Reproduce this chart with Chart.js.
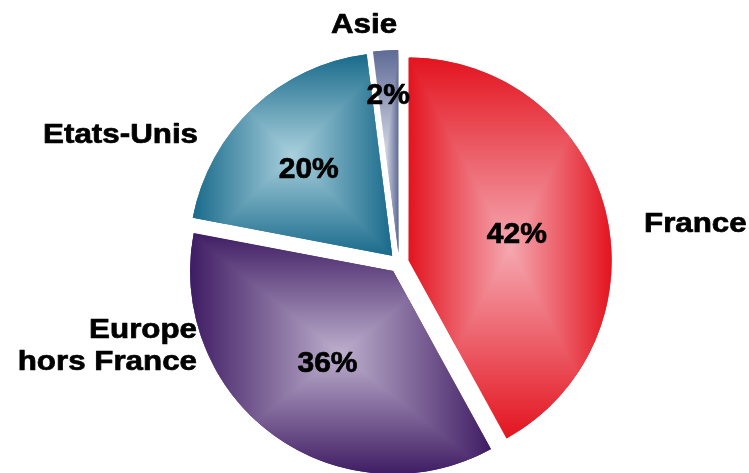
<!DOCTYPE html>
<html lang="fr">
<head>
<meta charset="utf-8">
<title>Répartition par zone</title>
<script src="https://cdn.jsdelivr.net/npm/chart.js@4.4.1/dist/chart.umd.min.js"></script>
<style>
  html, body { margin: 0; padding: 0; background: #ffffff; }
  #zone { position: relative; width: 749px; height: 473px; }
</style>
</head>
<body>
<div id="zone"><canvas id="camembert"></canvas></div>
<script>
// Données du graphique
const zones = ['France', 'Europe hors France', 'Etats-Unis', 'Asie'];
const parts = [42, 36, 20, 2];
const lignesEtiquettes = [['France'], ['Europe', 'hors France'], ['Etats-Unis'], ['Asie']];

// Couleurs : bord foncé et centre clair de chaque part
const couleursBord = ['#e3141f', '#3f1c63', '#196a8b', '#5f6b96'];
const couleursCentre = ['#f5a8b1', '#bdafcd', '#a9d0dd', '#d3d6e4'];

const RAYON = 203;
const DECALAGE = 40; // Chart.js déplace la part de offset / 4

// Placement des textes (pour coller à l'original)
const rayonPourcent = [0.55, 0.55, 0.6, 0.79];
const posEtiquettes = [
  { dx: 245, dy: -41, align: 'left' },
  { dx: -202, dy: 81, align: 'right' },
  { dx: -201, dy: -130, align: 'right' },
  { dx: -35, dy: -240, align: 'center' }
];

function sommet(arc) {
  const o = (arc.options.offset || 0) / 4;
  const h = (arc.startAngle + arc.endAngle) / 2;
  return { x: arc.x + Math.cos(h) * o, y: arc.y + Math.sin(h) * o, h: h };
}

// Chart.js agrandit les parts décalées : on compense pour garder le même rayon
const pluginRayon = {
  id: 'rayonEgal',
  afterDatasetUpdate(chart, args) {
    args.meta.data.forEach(arc => {
      const o = (arc.options.offset || 0) / 4;
      const fix = 1 - Math.sin(Math.min(Math.PI, arc.circumference || 0));
      arc.outerRadius = RAYON - o * fix;
    });
  }
};

// Dégradé "rectangle depuis le centre" sur chaque part
const pluginDegrade = {
  id: 'degrade',
  afterDatasetsDraw(chart) {
    const ctx = chart.ctx;
    chart.getDatasetMeta(0).data.forEach((arc, i) => {
      const p = sommet(arc);
      const s = arc.startAngle, e = arc.endAngle;
      const pts = [[p.x, p.y],
        [p.x + RAYON * Math.cos(s), p.y + RAYON * Math.sin(s)],
        [p.x + RAYON * Math.cos(e), p.y + RAYON * Math.sin(e)]];
      for (let k = -2; k <= 4; k++) {
        const a = k * Math.PI / 2;
        if (a > s && a < e) pts.push([p.x + RAYON * Math.cos(a), p.y + RAYON * Math.sin(a)]);
      }
      const xs = pts.map(q => q[0]), ys = pts.map(q => q[1]);
      const x0 = Math.min(...xs), x1 = Math.max(...xs);
      const y0 = Math.min(...ys), y1 = Math.max(...ys);
      const cx = (x0 + x1) / 2, cy = (y0 + y1) / 2;

      ctx.save();
      ctx.beginPath();
      ctx.moveTo(p.x, p.y);
      ctx.arc(p.x, p.y, RAYON, s, e);
      ctx.closePath();
      ctx.clip();

      const gv = ctx.createLinearGradient(0, y0, 0, y1);
      gv.addColorStop(0, couleursBord[i]);
      gv.addColorStop(0.5, couleursCentre[i]);
      gv.addColorStop(1, couleursBord[i]);
      ctx.fillStyle = gv;
      ctx.fillRect(x0 - 1, y0 - 1, x1 - x0 + 2, y1 - y0 + 2);

      const gh = ctx.createLinearGradient(x0, 0, x1, 0);
      gh.addColorStop(0, couleursBord[i]);
      gh.addColorStop(0.5, couleursCentre[i]);
      gh.addColorStop(1, couleursBord[i]);
      ctx.fillStyle = gh;
      ctx.beginPath();
      ctx.moveTo(x0 - 1, y0 - 1); ctx.lineTo(cx, cy); ctx.lineTo(x0 - 1, y1 + 1);
      ctx.closePath();
      ctx.moveTo(x1 + 1, y0 - 1); ctx.lineTo(cx, cy); ctx.lineTo(x1 + 1, y1 + 1);
      ctx.closePath();
      ctx.fill();
      ctx.restore();
    });
  }
};

// Pourcentages dans les parts et noms des zones autour
const pluginTextes = {
  id: 'textes',
  afterDraw(chart) {
    const ctx = chart.ctx;
    const meta = chart.getDatasetMeta(0);
    const total = parts.reduce((a, b) => a + b, 0);
    ctx.save();
    ctx.fillStyle = '#000000';
    ctx.strokeStyle = '#000000';
    ctx.lineWidth = 0.7;
    ctx.lineJoin = 'round';

    ctx.font = 'bold 30px "Liberation Sans", Arial, sans-serif';
    ctx.textAlign = 'center';
    ctx.textBaseline = 'alphabetic';
    meta.data.forEach((arc, i) => {
      const p = sommet(arc);
      const r = RAYON * rayonPourcent[i];
      const tx = p.x + Math.cos(p.h) * r;
      const ty = p.y + Math.sin(p.h) * r + 30 * 0.358;
      const txt = Math.round(parts[i] / total * 100) + '%';
      ctx.fillText(txt, tx, ty);
      ctx.strokeText(txt, tx, ty);
    });

    const cx = meta.data[0].x, cy = meta.data[0].y;
    const taille = 27, interligne = 32;
    ctx.font = 'bold ' + taille + 'px "Liberation Sans", Arial, sans-serif';
    lignesEtiquettes.forEach((lignes, i) => {
      const pos = posEtiquettes[i];
      ctx.textAlign = pos.align;
      const haut = (lignes.length - 1) * interligne;
      lignes.forEach((txt, j) => {
        const y = cy + pos.dy - haut / 2 + j * interligne + taille * 0.358;
        ctx.save();
        ctx.translate(cx + pos.dx, y);
        ctx.scale(1.16, 1);
        ctx.fillText(txt, 0, 0);
        ctx.strokeText(txt, 0, 0);
        ctx.restore();
      });
    });
    ctx.restore();
  }
};

new Chart(document.getElementById('camembert'), {
  type: 'pie',
  data: {
    labels: zones,
    datasets: [{
      data: parts,
      backgroundColor: couleursBord,
      borderWidth: 0,
      offset: DECALAGE,
      hoverOffset: DECALAGE
    }]
  },
  options: {
    responsive: true,
    maintainAspectRatio: false,
    animation: false,
    radius: RAYON,
    layout: { padding: { left: 49, right: 0, top: 53, bottom: 0 } },
    plugins: {
      legend: { display: false },
      tooltip: { enabled: false }
    },
    events: []
  },
  plugins: [pluginRayon, pluginDegrade, pluginTextes]
});
</script>
</body>
</html>
